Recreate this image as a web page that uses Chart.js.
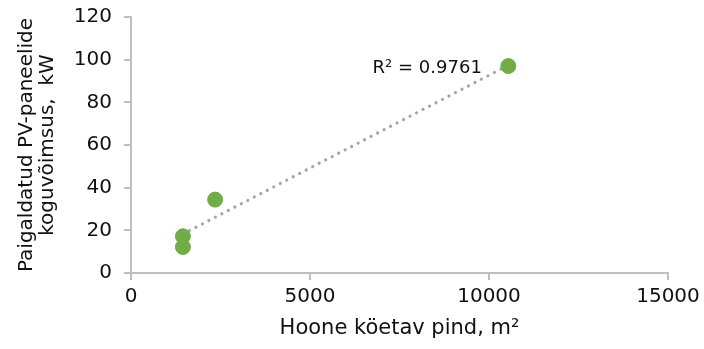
<!DOCTYPE html>
<html>
<head>
<meta charset="utf-8">
<script src="https://cdn.jsdelivr.net/npm/chart.js@4/dist/chart.umd.min.js"></script>
<style>
  html, body { margin: 0; padding: 0; background: #fff; }
  #wrap { width: 704px; height: 349px; }
</style>
</head>
<body>
<div id="wrap"><canvas id="chart" width="704" height="349"></canvas></div>
<script>
// ── Data ──────────────────────────────────────────────────────────────────
const areaM2    = [1450, 1450, 2350, 10540];
const powerKW   = [12.2, 17.2, 34.4, 97.0];
const trendX    = [1450, 10540];
const trendY    = [18.3, 97.4];
const xTicks    = [0, 5000, 10000, 15000];
const yTicks    = [0, 20, 40, 60, 80, 100, 120];
const r2Label   = 'R² = 0.9761';

const FONT  = "'DejaVu Sans', Verdana, sans-serif";
const TEXT  = '#111111';
const AXIS  = '#bfbfbf';

// R² label next to the trendline end
const r2Plugin = {
  id: 'r2',
  afterDatasetsDraw(chart) {
    const { ctx, scales } = chart;
    ctx.save();
    ctx.font = `18px ${FONT}`;
    ctx.fillStyle = TEXT;
    ctx.textAlign = 'right';
    ctx.textBaseline = 'middle';
    ctx.fillText(r2Label, scales.x.getPixelForValue(9800), scales.y.getPixelForValue(96));
    ctx.restore();
  },
};

new Chart(document.getElementById('chart'), {
  type: 'scatter',
  data: {
    datasets: [
      {
        type: 'line',
        data: trendX.map((x, i) => ({ x, y: trendY[i] })),
        borderColor: '#a5a5a5',
        borderWidth: 3.2,
        borderDash: [0.01, 7.3],
        borderCapStyle: 'round',
        pointRadius: 0,
        fill: false,
        order: 2,
      },
      {
        data: areaM2.map((x, i) => ({ x, y: powerKW[i] })),
        backgroundColor: '#70ad47',
        borderColor: '#70ad47',
        pointRadius: 7.5,
        pointHoverRadius: 7.5,
        order: 1,
      },
    ],
  },
  options: {
    responsive: false,
    animation: false,
    events: [],
    layout: { padding: { top: 17, right: 36, left: 17, bottom: 0 } },
    plugins: { legend: { display: false }, tooltip: { enabled: false } },
    scales: {
      x: {
        type: 'linear',
        min: 0,
        max: 15000,
        afterBuildTicks: s => { s.ticks = xTicks.map(v => ({ value: v })); },
        afterFit: s => { s.height = 76; s.paddingLeft = 0; s.paddingRight = 0; },
        grid: { display: true, drawOnChartArea: false, drawTicks: true, tickLength: 7, color: AXIS, lineWidth: 2 },
        border: { color: AXIS, width: 2 },
        ticks: { color: TEXT, font: { family: FONT, size: 20 }, padding: 5, maxRotation: 0, callback: v => String(v) },
        title: {
          display: true,
          text: 'Hoone köetav pind, m²',
          color: TEXT,
          font: { family: FONT, size: 21 },
          padding: { top: 0, bottom: 8 },
        },
      },
      y: {
        type: 'linear',
        min: 0,
        max: 120,
        afterBuildTicks: s => { s.ticks = yTicks.map(v => ({ value: v })); },
        afterFit: s => { s.width = 114; s.paddingTop = 0; s.paddingBottom = 0; },
        grid: { display: true, drawOnChartArea: false, drawTicks: true, tickLength: 7, color: AXIS, lineWidth: 2 },
        border: { color: AXIS, width: 2 },
        ticks: { color: TEXT, font: { family: FONT, size: 20 }, padding: 12, callback: v => String(v) },
        title: {
          display: true,
          text: ['Paigaldatud PV-paneelide', 'koguvõimsus,  kW'],
          color: TEXT,
          font: { family: FONT, size: 20, lineHeight: 1.02 },
          padding: { top: 0, bottom: 0 },
        },
      },
    },
  },
  plugins: [r2Plugin],
});
</script>
</body>
</html>
